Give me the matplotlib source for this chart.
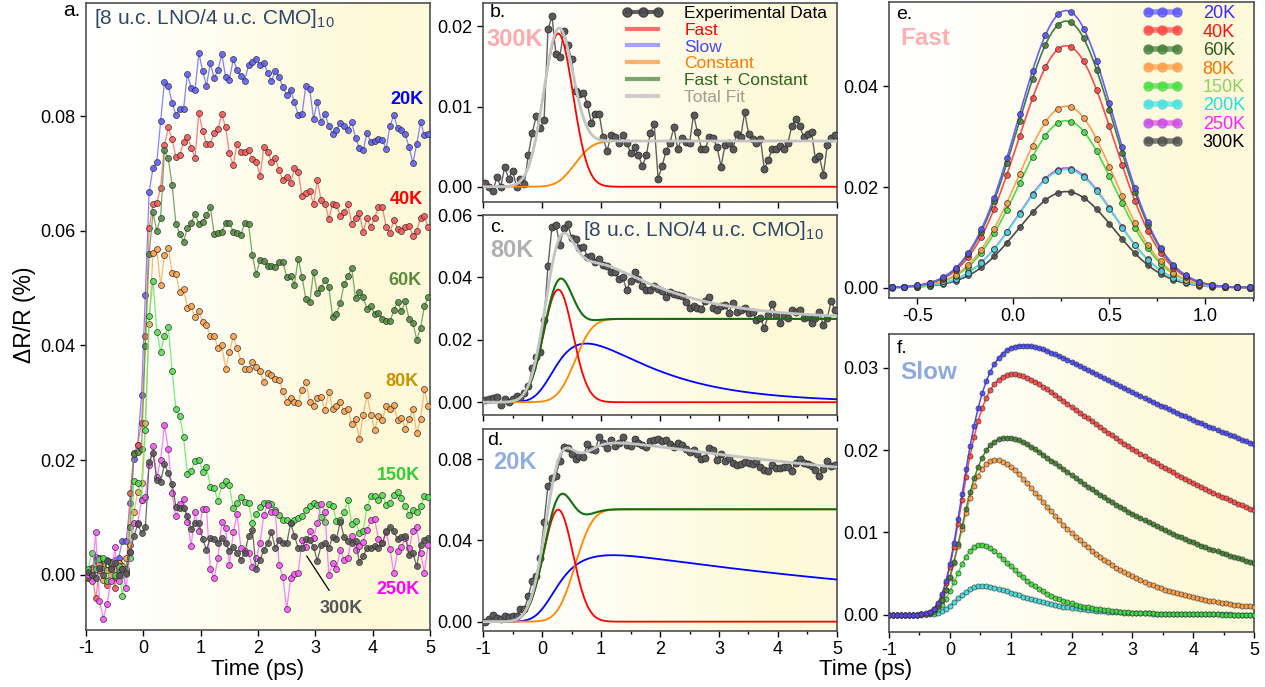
import math
import numpy as np
import matplotlib
matplotlib.use("Agg")
import matplotlib.pyplot as plt
from matplotlib.lines import Line2D
from matplotlib.colors import LinearSegmentedColormap
from matplotlib.legend_handler import HandlerLine2D
from matplotlib.ticker import MultipleLocator, FormatStrFormatter

plt.rcParams["font.family"] = ["Liberation Sans", "DejaVu Sans"]
plt.rcParams["mathtext.fontset"] = "custom"
plt.rcParams["mathtext.rm"] = "Liberation Sans"
plt.rcParams["mathtext.default"] = "regular"
plt.rcParams["axes.unicode_minus"] = False

# ---------------------------------------------------------------- data
# pump-probe delay grid (ps), 1/15 ps steps
time_ps = -0.965 + np.arange(90) / 15.0

# transient reflectivity dR/R (%) for each temperature
dr_20K = [0.0000, 0.0012, 0.0032, 0.0020, 0.0013, 0.0026, 0.0023, 0.0026, 0.0029, 0.0060,
          0.0060, 0.0125, 0.0202, 0.0227, 0.0313, 0.0488, 0.0668, 0.0709, 0.0719, 0.0791,
          0.0859, 0.0853, 0.0823, 0.0802, 0.0813, 0.0812, 0.0874, 0.0848, 0.0845, 0.0910,
          0.0878, 0.0853, 0.0892, 0.0866, 0.0880, 0.0908, 0.0868, 0.0863, 0.0899, 0.0880,
          0.0870, 0.0861, 0.0889, 0.0895, 0.0900, 0.0889, 0.0893, 0.0875, 0.0861, 0.0879,
          0.0868, 0.0850, 0.0837, 0.0846, 0.0824, 0.0802, 0.0804, 0.0853, 0.0847, 0.0795,
          0.0825, 0.0789, 0.0804, 0.0783, 0.0769, 0.0776, 0.0788, 0.0783, 0.0775, 0.0789,
          0.0762, 0.0744, 0.0740, 0.0771, 0.0754, 0.0757, 0.0760, 0.0759, 0.0742, 0.0783,
          0.0801, 0.0779, 0.0776, 0.0768, 0.0746, 0.0718, 0.0751, 0.0789, 0.0767, 0.0769]
dr_40K = [-0.0006, 0.0005, -0.0041, 0.0008, 0.0020, -0.0017, 0.0022, -0.0022, 0.0020, 0.0010,
          0.0001, 0.0142, 0.0212, 0.0227, 0.0265, 0.0416, 0.0605, 0.0646, 0.0648, 0.0675,
          0.0749, 0.0780, 0.0760, 0.0728, 0.0732, 0.0754, 0.0764, 0.0745, 0.0727, 0.0805,
          0.0774, 0.0752, 0.0752, 0.0770, 0.0777, 0.0804, 0.0780, 0.0735, 0.0714, 0.0752,
          0.0737, 0.0737, 0.0741, 0.0725, 0.0720, 0.0696, 0.0746, 0.0738, 0.0720, 0.0726,
          0.0706, 0.0688, 0.0693, 0.0683, 0.0710, 0.0703, 0.0660, 0.0666, 0.0670, 0.0646,
          0.0688, 0.0653, 0.0647, 0.0621, 0.0647, 0.0644, 0.0626, 0.0632, 0.0646, 0.0612,
          0.0623, 0.0631, 0.0598, 0.0622, 0.0606, 0.0623, 0.0642, 0.0642, 0.0606, 0.0596,
          0.0619, 0.0603, 0.0599, 0.0606, 0.0609, 0.0591, 0.0600, 0.0623, 0.0625, 0.0606]
dr_60K = [-0.0003, 0.0012, 0.0026, 0.0029, 0.0026, 0.0009, 0.0020, -0.0003, 0.0009, 0.0000,
          0.0006, 0.0084, 0.0210, 0.0215, 0.0220, 0.0399, 0.0559, 0.0632, 0.0600, 0.0623,
          0.0740, 0.0726, 0.0680, 0.0612, 0.0595, 0.0581, 0.0605, 0.0613, 0.0630, 0.0612,
          0.0616, 0.0627, 0.0642, 0.0594, 0.0596, 0.0597, 0.0614, 0.0614, 0.0598, 0.0596,
          0.0593, 0.0614, 0.0612, 0.0557, 0.0524, 0.0549, 0.0548, 0.0539, 0.0538, 0.0537,
          0.0546, 0.0545, 0.0519, 0.0521, 0.0506, 0.0551, 0.0519, 0.0481, 0.0475, 0.0528,
          0.0492, 0.0501, 0.0514, 0.0502, 0.0449, 0.0455, 0.0474, 0.0507, 0.0521, 0.0535,
          0.0482, 0.0494, 0.0485, 0.0463, 0.0468, 0.0455, 0.0457, 0.0446, 0.0443, 0.0442,
          0.0461, 0.0476, 0.0460, 0.0477, 0.0446, 0.0440, 0.0410, 0.0430, 0.0468, 0.0484]
dr_80K = [0.0008, 0.0009, 0.0014, 0.0017, -0.0008, 0.0009, 0.0000, 0.0010, 0.0020, 0.0015,
          0.0029, 0.0052, 0.0109, 0.0145, 0.0160, 0.0265, 0.0438, 0.0561, 0.0568, 0.0505,
          0.0557, 0.0570, 0.0527, 0.0524, 0.0493, 0.0498, 0.0466, 0.0468, 0.0449, 0.0460,
          0.0441, 0.0435, 0.0416, 0.0417, 0.0396, 0.0400, 0.0359, 0.0388, 0.0416, 0.0395,
          0.0373, 0.0359, 0.0359, 0.0372, 0.0363, 0.0355, 0.0336, 0.0352, 0.0348, 0.0342,
          0.0339, 0.0320, 0.0302, 0.0309, 0.0301, 0.0299, 0.0323, 0.0337, 0.0302, 0.0294,
          0.0308, 0.0310, 0.0287, 0.0319, 0.0290, 0.0295, 0.0302, 0.0286, 0.0290, 0.0263,
          0.0271, 0.0237, 0.0279, 0.0314, 0.0279, 0.0253, 0.0277, 0.0270, 0.0294, 0.0289,
          0.0296, 0.0270, 0.0274, 0.0255, 0.0271, 0.0289, 0.0247, 0.0271, 0.0324, 0.0294]
dr_150K = [0.0010, 0.0039, 0.0010, 0.0028, 0.0030, -0.0010, 0.0012, 0.0000, 0.0015, -0.0036,
           0.0010, 0.0030, 0.0163, 0.0160, 0.0130, 0.0253, 0.0452, 0.0513, 0.0424, 0.0389,
           0.0416, 0.0432, 0.0356, 0.0289, 0.0277, 0.0241, 0.0176, 0.0181, 0.0199, 0.0201,
           0.0180, 0.0189, 0.0154, 0.0151, 0.0129, 0.0157, 0.0163, 0.0156, 0.0116, 0.0125,
           0.0135, 0.0127, 0.0126, 0.0091, 0.0106, 0.0118, 0.0126, 0.0125, 0.0124, 0.0113,
           0.0105, 0.0096, 0.0095, 0.0091, 0.0096, 0.0099, 0.0102, 0.0113, 0.0120, 0.0126,
           0.0122, 0.0101, 0.0093, 0.0123, 0.0121, 0.0094, 0.0095, 0.0110, 0.0130, 0.0088,
           0.0094, 0.0073, 0.0077, 0.0119, 0.0137, 0.0137, 0.0131, 0.0140, 0.0122, 0.0125,
           0.0140, 0.0145, 0.0134, 0.0120, 0.0105, 0.0113, 0.0109, 0.0120, 0.0137, 0.0135]
dr_250K = [0.0000, -0.0010, 0.0074, -0.0045, -0.0076, -0.0050, -0.0010, 0.0048, -0.0010, 0.0010,
           -0.0022, 0.0040, 0.0090, 0.0090, 0.0130, 0.0135, 0.0191, 0.0225, 0.0170, 0.0200,
           0.0261, 0.0220, 0.0142, 0.0102, 0.0123, 0.0132, 0.0093, 0.0051, 0.0110, 0.0077,
           0.0115, 0.0115, 0.0010, -0.0006, 0.0029, 0.0092, 0.0082, 0.0017, 0.0074, 0.0106,
           0.0047, 0.0042, 0.0038, 0.0014, 0.0029, 0.0055, 0.0105, 0.0122, 0.0109, 0.0110,
           0.0017, -0.0004, -0.0060, -0.0006, 0.0001, 0.0003, 0.0061, 0.0049, 0.0076, 0.0064,
           0.0090, 0.0124, 0.0110, 0.0000, 0.0020, 0.0010, 0.0044, 0.0026, 0.0029, 0.0067,
           0.0044, 0.0051, 0.0058, 0.0078, 0.0095, 0.0097, 0.0062, 0.0055, 0.0074, 0.0045,
           0.0004, 0.0041, 0.0049, 0.0064, 0.0047, 0.0076, 0.0083, 0.0039, 0.0004, 0.0052]
dr_300K = [0.0005, 0.0000, -0.0005, 0.0012, 0.0000, 0.0025, 0.0010, 0.0020, 0.0000, 0.0010,
           0.0004, 0.0040, 0.0067, 0.0088, 0.0073, 0.0083, 0.0196, 0.0213, 0.0166, 0.0162,
           0.0194, 0.0177, 0.0159, 0.0119, 0.0116, 0.0117, 0.0103, 0.0080, 0.0091, 0.0091,
           0.0062, 0.0044, 0.0064, 0.0062, 0.0055, 0.0064, 0.0055, 0.0042, 0.0049, 0.0039,
           0.0026, 0.0039, 0.0067, 0.0078, 0.0010, 0.0026, 0.0044, 0.0055, 0.0074, 0.0047,
           0.0061, 0.0056, 0.0055, 0.0090, 0.0068, 0.0047, 0.0047, 0.0062, 0.0061, 0.0049,
           0.0025, 0.0052, 0.0055, 0.0047, 0.0066, 0.0062, 0.0093, 0.0066, 0.0060, 0.0055,
           0.0060, 0.0022, 0.0033, 0.0047, 0.0047, 0.0051, 0.0047, 0.0055, 0.0076, 0.0084,
           0.0076, 0.0062, 0.0066, 0.0068, 0.0034, 0.0038, 0.0015, 0.0052, 0.0061, 0.0064]

# fit parameters
fast_temps = ["20K", "40K", "60K", "80K", "150K", "200K", "250K", "300K"]
fast_amp = [0.0551, 0.0481, 0.0530, 0.0361, 0.0332, 0.0235, 0.0238, 0.0191]
FAST_CENTER, FAST_WIDTH = 0.275, 0.25          # Gaussian centre / sigma (ps)
STEP_CENTER, STEP_WIDTH = 0.56, 0.235          # constant-term step (ps)
const_amp = {"20K": 0.0553, "80K": 0.0267, "300K": 0.0057}

slow_temps = ["20K", "40K", "60K", "80K", "150K", "200K"]
slow_peak = [0.0327, 0.0292, 0.0215, 0.0188, 0.0085, 0.0035]
slow_tau_rise = [0.36, 0.36, 0.36, 0.42, 0.30, 0.30]
slow_tau_decay = [7.5, 4.3, 3.0, 1.25, 0.6, 0.75]
SLOW_ONSET, IRF = 0.0, 0.2

# ---------------------------------------------------------------- models
SQ2 = math.sqrt(2.0)
erf_v = np.vectorize(math.erf)
erfc_v = np.vectorize(math.erfc)


def fast_component(t, amp):
    return amp * np.exp(-0.5 * ((t - FAST_CENTER) / FAST_WIDTH) ** 2)


def constant_component(t, amp):
    return amp * 0.5 * (1.0 + erf_v((t - STEP_CENTER) / (STEP_WIDTH * SQ2)))


def _emg(t, tau):
    x = np.asarray(t) - SLOW_ONSET
    return np.exp(IRF ** 2 / (2 * tau ** 2) - x / tau) * 0.5 * erfc_v((IRF / tau - x / IRF) / SQ2)


def slow_component(t, peak, tau_r, tau_d):
    fine = np.linspace(-1.5, 6.0, 3001)
    prof = _emg(fine, tau_d) - _emg(fine, tau_r)
    scale = peak / prof.max()
    return scale * (_emg(t, tau_d) - _emg(t, tau_r))


def slow_of(temp, t):
    i = slow_temps.index(temp)
    return slow_component(t, slow_peak[i], slow_tau_rise[i], slow_tau_decay[i])


def fast_of(temp, t):
    return fast_component(t, fast_amp[fast_temps.index(temp)])


# ---------------------------------------------------------------- figure
W, H = 1265, 687
fig = plt.figure(figsize=(W / 100, H / 100), dpi=100)

bg_cmap = LinearSegmentedColormap.from_list(
    "bg", [(0.0, "#ffffff"), (0.15, "#fffffc"), (0.5, "#fefce9"), (0.85, "#fdf9d7"), (1.0, "#fdfadd")])


def make_axes(left, top, right, bottom):
    ax = fig.add_axes([left / W, 1 - bottom / H, (right - left) / W, (bottom - top) / H])
    grad = np.linspace(0, 1, 256).reshape(1, -1)
    ax.imshow(grad, extent=[0, 1, 0, 1], transform=ax.transAxes, aspect="auto",
              cmap=bg_cmap, zorder=0, interpolation="bicubic")
    for sp in ax.spines.values():
        sp.set_color("#505050")
        sp.set_linewidth(1.2)
    ax.tick_params(direction="out", length=4, width=1, labelsize=13, colors="#000000")
    ax.tick_params(which="minor", direction="out", length=2.5, width=1)
    return ax


def data_style(color, line_color):
    return dict(marker="o", ms=4.3, mfc=color, mec="#303030", mew=0.6, color=line_color,
                lw=0.9, alpha=0.85)


# ---- panel a
ax_a = make_axes(86, 3, 430, 630)
series_a = [("20K", dr_20K, "#5a5aff", "#6e6eff"),
            ("40K", dr_40K, "#ff5252", "#ff6a6a"),
            ("60K", dr_60K, "#4c8c3c", "#5c9c4c"),
            ("80K", dr_80K, "#ffa048", "#ffaa5c"),
            ("150K", dr_150K, "#4ee04e", "#5cee5c"),
            ("250K", dr_250K, "#ff4eff", "#ff66ff"),
            ("300K", dr_300K, "#555555", "#505050")]
for name, vals, c, lc in series_a:
    ax_a.plot(time_ps, vals, zorder=3, **data_style(c, lc))
ax_a.set_xlim(-1, 5)
ax_a.set_ylim(-0.0096, 0.0997)
ax_a.xaxis.set_major_locator(MultipleLocator(1))
ax_a.yaxis.set_major_locator(MultipleLocator(0.02))
ax_a.yaxis.set_major_formatter(FormatStrFormatter("%.2f"))
ax_a.text(0.024, 0.976, "[8 u.c. LNO/4 u.c. CMO]$_{10}$", transform=ax_a.transAxes,
          ha="left", va="center", fontsize=15, color="#2e4668", zorder=5)
labels_a = [("20K", 4.88, 0.0828, "#0000ff"), ("40K", 4.88, 0.0654, "#ff0000"),
            ("60K", 4.85, 0.0514, "#5a8a3c"), ("80K", 4.80, 0.0337, "#c89400"),
            ("150K", 4.82, 0.0173, "#33cc33"), ("250K", 4.82, -0.0025, "#ff00ff")]
for txt, x, y, c in labels_a:
    ax_a.text(x, y, txt, ha="right", va="center", fontsize=13, fontweight="bold", color=c, zorder=6)
ax_a.annotate("300K", xy=(2.85, 0.0033), xytext=(3.45, -0.0059), ha="center", va="center",
              fontsize=13, fontweight="bold", color="#555555", zorder=6,
              arrowprops=dict(arrowstyle="-", color="#000000", lw=0.9, shrinkA=6, shrinkB=0))

# ---- panels b, c, d (fit decomposition)
t_fit = np.linspace(-1, 5, 600)
fit_colors = {"fast": "#ff0000", "slow": "#0000ff", "const": "#ff8800",
              "fc": "#107010", "total": "#c4c4c4"}


def decomposition(ax, temp, data, with_slow):
    ax.plot(time_ps, data, marker="o", ms=5, mfc="#5a5a5a", mec="#303030", mew=0.6,
            color="#606060", lw=1.0, zorder=3)
    f = fast_of(temp, t_fit)
    c = constant_component(t_fit, const_amp[temp])
    total = f + c
    if with_slow:
        s = slow_of(temp, t_fit)
        ax.plot(t_fit, s, color=fit_colors["slow"], lw=1.3, zorder=4)
        total = total + s
    ax.plot(t_fit, c, color=fit_colors["const"], lw=1.3, zorder=4)
    ax.plot(t_fit, f, color=fit_colors["fast"], lw=1.3, zorder=4)
    if with_slow:
        ax.plot(t_fit, f + c, color=fit_colors["fc"], lw=1.5, zorder=4)
    ax.plot(t_fit, total, color=fit_colors["total"], lw=2.0, zorder=5)
    ax.set_xlim(-1, 5)
    ax.xaxis.set_major_locator(MultipleLocator(1))


ax_b = make_axes(483, 3, 837, 202)
decomposition(ax_b, "300K", dr_300K, False)
ax_b.set_ylim(-0.0019, 0.0229)
ax_b.yaxis.set_major_locator(MultipleLocator(0.01))
ax_b.yaxis.set_major_formatter(FormatStrFormatter("%.2f"))
ax_b.tick_params(labelbottom=False)

ax_c = make_axes(483, 215, 837, 415)
decomposition(ax_c, "80K", dr_80K, True)
ax_c.set_ylim(-0.0041, 0.060)
ax_c.yaxis.set_major_locator(MultipleLocator(0.02))
ax_c.yaxis.set_major_formatter(FormatStrFormatter("%.2f"))
ax_c.xaxis.set_minor_locator(MultipleLocator(0.5))
ax_c.tick_params(labelbottom=False)

ax_d = make_axes(483, 429, 837, 631)
decomposition(ax_d, "20K", dr_20K, True)
ax_d.set_ylim(-0.0046, 0.0948)
ax_d.yaxis.set_major_locator(MultipleLocator(0.04))
ax_d.yaxis.set_major_formatter(FormatStrFormatter("%.2f"))
ax_d.xaxis.set_minor_locator(MultipleLocator(0.5))

# legend of panel b
leg_items = [("Experimental Data", "#505050", "#000000", True),
             ("Fast", "#ff6060", "#ff0000", False),
             ("Slow", "#9a9aff", "#4646ff", False),
             ("Constant", "#ffaa60", "#ff7a00", False),
             ("Fast + Constant", "#6f9a60", "#2e6620", False),
             ("Total Fit", "#c8c8c8", "#a89a8c", False)]
handles = []
for lab, lc, tc, mk in leg_items:
    if mk:
        handles.append(Line2D([], [], color=lc, lw=3, marker="o", ms=6.5, mfc="#4a4a4a",
                              mec="#3a3a3a", alpha=0.9))
    else:
        handles.append(Line2D([], [], color=lc, lw=3, alpha=0.9))
leg = ax_b.legend(handles, [it[0] for it in leg_items], loc="upper right",
                  bbox_to_anchor=(0.992, 1.02), borderaxespad=0, frameon=False, fontsize=12.5,
                  handlelength=3.7, handletextpad=0.55, labelspacing=0.09,
                  handler_map={Line2D: HandlerLine2D(marker_pad=0.95, numpoints=3)})
for txt, it in zip(leg.get_texts(), leg_items):
    txt.set_color(it[2])
leg.set_zorder(7)

# panel texts
ax_b.text(0.042, 0.95, "b.", transform=ax_b.transAxes, ha="center", va="center", fontsize=14, zorder=7)
ax_b.text(0.089, 0.819, "300K", transform=ax_b.transAxes, ha="center", va="center",
          fontsize=17, fontweight="bold", color="#ffaaaa", zorder=7)
ax_c.text(0.041, 0.94, "c.", transform=ax_c.transAxes, ha="center", va="center", fontsize=14, zorder=7)
ax_c.text(0.083, 0.821, "80K", transform=ax_c.transAxes, ha="center", va="center",
          fontsize=17, fontweight="bold", color="#b0b0b0", zorder=7)
ax_c.text(0.2825, 0.921, "[8 u.c. LNO/4 u.c. CMO]$_{10}$", transform=ax_c.transAxes,
          ha="left", va="center", fontsize=15, color="#2e4668", zorder=7)
ax_d.text(0.034, 0.945, "d.", transform=ax_d.transAxes, ha="center", va="center", fontsize=14, zorder=7)
ax_d.text(0.090, 0.835, "20K", transform=ax_d.transAxes, ha="center", va="center",
          fontsize=17, fontweight="bold", color="#8eaee0", zorder=7)

# ---- panel e (fast component)
ax_e = make_axes(889, 2, 1254, 298)
e_line_col = {"20K": "#6a5cff", "40K": "#ff4a4a", "60K": "#3e7e3e", "80K": "#ffa050",
              "150K": "#44e044", "200K": "#44e6e6", "250K": "#e448e4", "300K": "#4a4a4a"}
e_face_col = {"20K": "#5050ff", "40K": "#ff4040", "60K": "#3c7c30", "80K": "#ff9a40",
              "150K": "#40dd40", "200K": "#40e0e0", "250K": "#c048e8", "300K": "#4a4a4a"}
e_text_col = {"20K": "#3a2aff", "40K": "#ff1010", "60K": "#2e5a1e", "80K": "#ff7000",
              "150K": "#8ed060", "200K": "#20e0e0", "250K": "#ff20ff", "300K": "#000000"}
t_e_line = np.linspace(-0.7, 1.3, 500)
t_e_mark = -0.6333 + np.arange(29) / 15.0
for temp in ["300K", "250K", "200K", "150K", "80K", "40K", "60K", "20K"]:
    ax_e.plot(t_e_line, fast_of(temp, t_e_line), color=e_line_col[temp], lw=1.2, zorder=3)
    ax_e.plot(t_e_mark, fast_of(temp, t_e_mark), ls="none", marker="o", ms=4.2,
              mfc=e_face_col[temp], mec="#303030", mew=0.6, alpha=0.85, zorder=4)
ax_e.set_xlim(-0.647, 1.253)
ax_e.set_ylim(-0.00206, 0.0568)
ax_e.xaxis.set_major_locator(MultipleLocator(0.5))
ax_e.xaxis.set_minor_locator(MultipleLocator(0.25))
ax_e.xaxis.set_major_formatter(FormatStrFormatter("%.1f"))
ax_e.yaxis.set_major_locator(MultipleLocator(0.02))
ax_e.yaxis.set_major_formatter(FormatStrFormatter("%.2f"))
e_handles = [Line2D([], [], color=e_line_col[t], lw=4, alpha=0.7, marker="o", ms=6.5,
                    mfc=e_face_col[t], mec=e_face_col[t]) for t in fast_temps]
leg_e = ax_e.legend(e_handles, fast_temps, loc="upper right", bbox_to_anchor=(0.995, 1.0135),
                    borderaxespad=0, frameon=False, fontsize=13, handlelength=3.7,
                    handletextpad=0.4, labelspacing=0.08,
                    handler_map={Line2D: HandlerLine2D(marker_pad=1.05, numpoints=3)})
for txt, t in zip(leg_e.get_texts(), fast_temps):
    txt.set_color(e_text_col[t])
ax_e.text(0.041, 0.959, "e.", transform=ax_e.transAxes, ha="center", va="center", fontsize=14, zorder=7)
ax_e.text(0.030, 0.877, "Fast", transform=ax_e.transAxes, ha="left", va="center",
          fontsize=17.5, fontweight="bold", color="#ffb0b0", zorder=7)

# ---- panel f (slow component)
ax_f = make_axes(889, 334, 1254, 632)
f_col = {"20K": ("#4444ff", "#4a4aff"), "40K": ("#ff4040", "#ff4848"),
         "60K": ("#3c7c2c", "#4a8a3a"), "80K": ("#ff9a3a", "#ffa050"),
         "150K": ("#3adc3a", "#50e050"), "200K": ("#3adada", "#50e0e0")}
t_f_line = np.linspace(-1, 5, 600)
t_f_mark = -1 + np.arange(91) / 15.0
for temp in ["200K", "150K", "80K", "60K", "40K", "20K"]:
    ax_f.plot(t_f_line, slow_of(temp, t_f_line), color=f_col[temp][1], lw=1.1, zorder=3)
    ax_f.plot(t_f_mark, slow_of(temp, t_f_mark), ls="none", marker="o", ms=3.7,
              mfc=f_col[temp][0], mec="#303030", mew=0.5, alpha=0.85, zorder=4)
ax_f.set_xlim(-1, 5)
ax_f.set_ylim(-0.0021, 0.0341)
ax_f.xaxis.set_major_locator(MultipleLocator(1))
ax_f.xaxis.set_minor_locator(MultipleLocator(0.5))
ax_f.yaxis.set_major_locator(MultipleLocator(0.01))
ax_f.yaxis.set_major_formatter(FormatStrFormatter("%.2f"))
ax_f.text(0.036, 0.95, "f.", transform=ax_f.transAxes, ha="center", va="center", fontsize=14, zorder=7)
ax_f.text(0.030, 0.871, "Slow", transform=ax_f.transAxes, ha="left", va="center",
          fontsize=17.5, fontweight="bold", color="#8eaadc", zorder=7)

# ---- shared labels
fig.text(72 / W, 1 - 11 / H, "a.", ha="center", va="center", fontsize=15)
fig.text(258 / W, 1 - 669 / H, "Time (ps)", ha="center", va="center", fontsize=16)
fig.text(866 / W, 1 - 670 / H, "Time (ps)", ha="center", va="center", fontsize=16)
fig.text(25 / W, 1 - 315 / H, "ΔR/R (%)", ha="center", va="center", rotation=90, fontsize=16.5)

fig.savefig("out.png", dpi=100)
